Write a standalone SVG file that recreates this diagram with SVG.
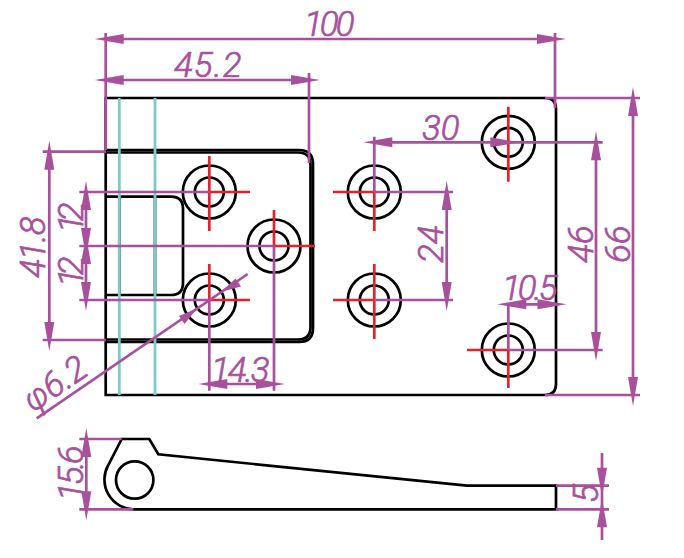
<svg xmlns="http://www.w3.org/2000/svg" width="684" height="558" viewBox="0 0 684 558">
<style>
.o{fill:none;stroke:#000;stroke-width:2.7}
.c{fill:none;stroke:#7ccbcb;stroke-width:2.8}
.r{fill:none;stroke:#e8202c;stroke-width:2.7}
.p{fill:none;stroke:#a8509c;stroke-width:2.7}
.a{marker-start:url(#ah);marker-end:url(#ah)}
.e{marker-end:url(#ah)}
text{font-family:Roboto,"Liberation Sans",sans-serif;font-style:italic;font-weight:300;font-size:35px;fill:#a8509c;stroke:#a8509c;stroke-width:.7}
</style>
<defs>
<marker id="ah" markerUnits="userSpaceOnUse" orient="auto-start-reverse" overflow="visible" markerWidth="30" markerHeight="12" refX="0" refY="0">
<path d="M11 0L-18 -5L-18 5Z" fill="#a8509c"/>
</marker>
<g id="hole"><circle r="26.500" class="o"/><circle r="14.500" class="o"/></g>
</defs>
<rect width="684" height="558" fill="#fff"/>
<g id="plate">
<path class="o" d="M545 98H105.700V395H545Q556 395 556 384V109Q556 98 545 98"/>
<path class="o" d="M105.700 150H299Q313 150 313 164V328Q313 342 299 342H105.700"/>
<path class="o" d="M105.700 152.500H298Q310.500 152.500 310.500 165V327Q310.500 339.500 298 339.500H105.700"/>
<path class="o" d="M105.700 196.700H171Q183 196.700 183 208.700V283Q183 295 171 295H105.700M119.300 196.700V295M155 196.700V295"/>
</g>
<g id="side-view">
<path class="o" d="M121.700 439H149.300L158.300 454.300L467 485.700H556V509.300H133.300A29.700 29.700 0 0 1 108.300 465Z"/>
<circle class="o" cx="134.700" cy="480" r="18.700"/>
</g>
<g id="holes">
<use href="#hole" x="209.300" y="192"/><use href="#hole" x="209.300" y="300"/><use href="#hole" x="274" y="246"/>
<use href="#hole" x="374.300" y="192"/><use href="#hole" x="374.300" y="300"/>
<use href="#hole" x="508.300" y="142.300"/><use href="#hole" x="508.300" y="350"/>
</g>
<g id="centerlines">
<path class="c" d="M119.300 98V395M155 98V395"/>
<path class="r" d="M209.300 156V231M209.300 192H250M209.300 264V300H250M274 210V246H315M333 192H374.300V231M374.300 264V339M333 300H374.300M508.300 106.700V181.700M467 350H508.300V388"/>
</g>
<g id="connectors">
<path class="p" d="M105.700 33V150M555 33V108M309 73V163M545 98H640M545 395H640M508.300 142.300H602.700M508.300 350H602.700M374.300 136.700V192M374.300 192H453M374.300 300H453M508.300 350V303M42.700 151.700H106M42.700 340H106M79.300 192H209.300M79.300 246H274M79.300 300H209.300M209.300 300V390.700M274 246V390.700M79.300 439H121.700M79.300 509.300H133.300M556 485.700H609M556 509.300H609"/>
<path class="p a" d="M105.700 39H555"/>
<path class="p a" d="M105.700 80H309"/>
<path class="p a" d="M633 98V395"/>
<path class="p a" d="M596 142.300V350"/>
<path class="p a" d="M446.700 192V300"/>
<path class="p a" d="M374.300 142.300H508.300"/>
<path class="p a" d="M209.300 384H274"/>
<path class="p a" d="M508.300 304.300H555.500"/>
<path class="p a" d="M86 192V246"/>
<path class="p a" d="M86 246V300"/>
<path class="p a" d="M49.300 151.700V340"/>
<path class="p a" d="M86.300 439V509.300"/>
<path class="p e" d="M602 453V485.700"/>
<path class="p e" d="M602 540V509.300"/>
<path class="p" d="M602 485.700V509.300"/>
<path class="p" d="M36.700 418.300L247.700 274"/>
<path d="M197.300 308.200L179 316L184.500 324ZM221.300 291.800L235.500 278.500L241 286.500Z" fill="#a8509c"/>
</g>
<g id="labels">
<text x="304" y="36" letter-spacing="-3">100</text>
<text x="174" y="76.700" letter-spacing="1">45.2</text>
<text x="422" y="140">30</text>
<text x="502" y="300" letter-spacing="-3">10.5</text>
<text x="211" y="381.500" letter-spacing="-2">14.3</text>
<text transform="translate(443 263) rotate(-90)">24</text>
<text transform="translate(593 263) rotate(-90)">46</text>
<text transform="translate(630 263) rotate(-90)">66</text>
<text transform="translate(45 278) rotate(-90)" letter-spacing="-1">41.8</text>
<text transform="translate(83 233) rotate(-90)" letter-spacing="-7">12</text>
<text transform="translate(83 287) rotate(-90)" letter-spacing="-7">12</text>
<text transform="translate(83 501) rotate(-90)" letter-spacing="-3">15.6</text>
<text transform="translate(598 503) rotate(-90)">5</text>
<text transform="translate(33 413) rotate(-34.400)">φ6.2</text>
</g>
</svg>
